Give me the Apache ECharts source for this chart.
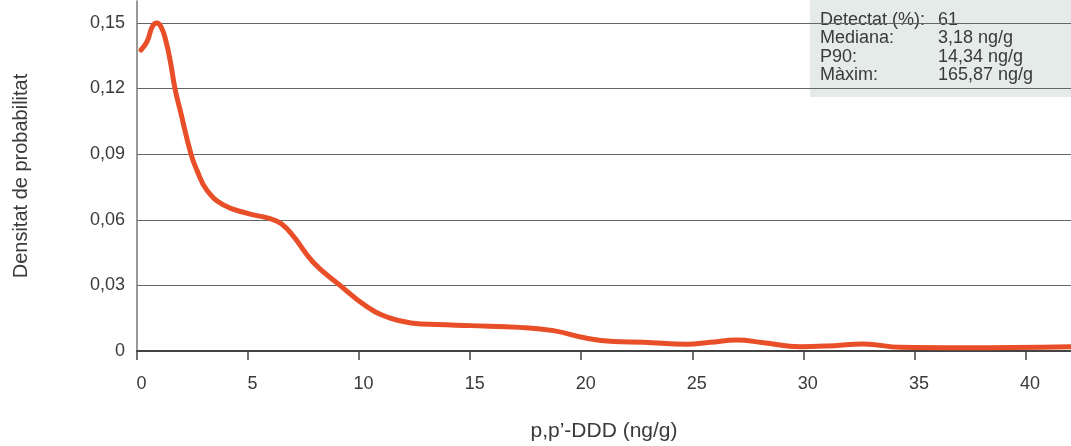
<!DOCTYPE html>
<html>
<head>
<meta charset="utf-8">
<style>
  html, body { margin: 0; padding: 0; background: #ffffff; }
  #chart { width: 1071px; height: 446px; }
</style>
<script src="https://cdn.jsdelivr.net/npm/echarts@6/dist/echarts.min.js"></script>
</head>
<body>
<div id="chart"></div>
<script>
// Kernel density estimate of p,p'-DDD concentration (ng/g)
const concentration = [0.18, 0.45, 0.7, 0.9, 1.1, 1.3, 1.5, 1.71, 1.94, 2.43, 2.69, 3.14, 3.89, 4.94, 5.99, 6.5, 7.04, 7.94, 9.14, 10.35, 11.4, 12.45, 13.5, 15.0, 17.25, 18.75, 20.26, 21.46, 22.8, 24.76, 25.81, 27.01, 28.2, 29.86, 31.07, 32.72, 34.37, 37.07, 42.05];
const density = [0.1376, 0.1414, 0.1485, 0.1499, 0.1478, 0.1418, 0.1325, 0.12, 0.1102, 0.09, 0.0828, 0.0736, 0.0668, 0.063, 0.0605, 0.0582, 0.0525, 0.0405, 0.030, 0.0203, 0.015, 0.0127, 0.0121, 0.0116, 0.0108, 0.0093, 0.0058, 0.0043, 0.004, 0.0031, 0.004, 0.005, 0.0038, 0.002, 0.0023, 0.0032, 0.0017, 0.0015, 0.002];

const xTicks = [0, 5, 10, 15, 20, 25, 30, 35, 40];
const yTicks = [0, 0.03, 0.06, 0.09, 0.12, 0.15];

const statLabels = ['Detectat (%):', 'Mediana:', 'P90:', 'Màxim:'];
const statValues = ['61', '3,18 ng/g', '14,34 ng/g', '165,87 ng/g'];

const FONT = 'Liberation Sans';
const TEXT = '#3a3a3a';

const points = concentration.map((c, i) => [c, density[i]]);
const fmtComma = v => String(+v.toFixed(2)).replace('.', ',');

const chart = echarts.init(document.getElementById('chart'), null, { renderer: 'canvas' });

chart.setOption({
  animation: false,
  backgroundColor: '#ffffff',
  textStyle: { fontFamily: FONT },
  grid: { left: 137, right: 0, top: 1, bottom: 95, containLabel: false, outerBoundsMode: 'none' },
  xAxis: {
    type: 'value',
    min: 0,
    max: 42.05,
    interval: 5,
    name: "p,p\u2019-DDD (ng/g)",
    nameLocation: 'middle',
    nameGap: 70,
    nameTextStyle: { fontFamily: FONT, fontSize: 21, color: TEXT },
    axisLine: { show: true, lineStyle: { color: '#444', width: 2 } },
    axisTick: { show: true, length: 9, customValues: xTicks, lineStyle: { color: '#444', width: 1.5 } },
    axisLabel: {
      customValues: xTicks,
      margin: 24,
      padding: [0, 0, 0, 9],
      fontFamily: FONT, fontSize: 18, color: TEXT,
      formatter: v => fmtComma(v)
    },
    splitLine: { show: false }
  },
  yAxis: {
    type: 'value',
    min: 0,
    max: 0.16,
    interval: 0.03,
    name: 'Densitat de probabilitat',
    nameLocation: 'middle',
    nameGap: 106,
    nameTextStyle: { fontFamily: FONT, fontSize: 20, color: TEXT },
    axisLine: { show: true, lineStyle: { color: '#777', width: 1.5 } },
    axisTick: { show: false },
    axisLabel: {
      customValues: yTicks,
      margin: 12,
      fontFamily: FONT, fontSize: 18, color: TEXT,
      formatter: v => fmtComma(v)
    },
    splitLine: { show: true, showMaxLine: false, lineStyle: { color: '#666', width: 1 } }
  },
  series: [{
    type: 'line',
    data: points,
    smooth: 0.45,
    symbol: 'none',
    clip: true,
    lineStyle: { color: '#e84e27', width: 5, cap: 'round', join: 'round' },
    z: 5
  }],
  graphic: [{
    type: 'group',
    right: 0,
    top: 0,
    z: 100,
    children: [
      { type: 'rect', shape: { x: 0, y: 0, width: 261, height: 97 }, style: { fill: '#e5ebe9' } },
      {
        type: 'text', left: 10, top: 11,
        style: { text: statLabels.join('\n'), fontFamily: FONT, fontSize: 18, lineHeight: 18.3, fill: TEXT }
      },
      {
        type: 'text', left: 128, top: 11,
        style: { text: statValues.join('\n'), fontFamily: FONT, fontSize: 18, lineHeight: 18.3, fill: TEXT }
      }
    ]
  }]
});
</script>
</body>
</html>
